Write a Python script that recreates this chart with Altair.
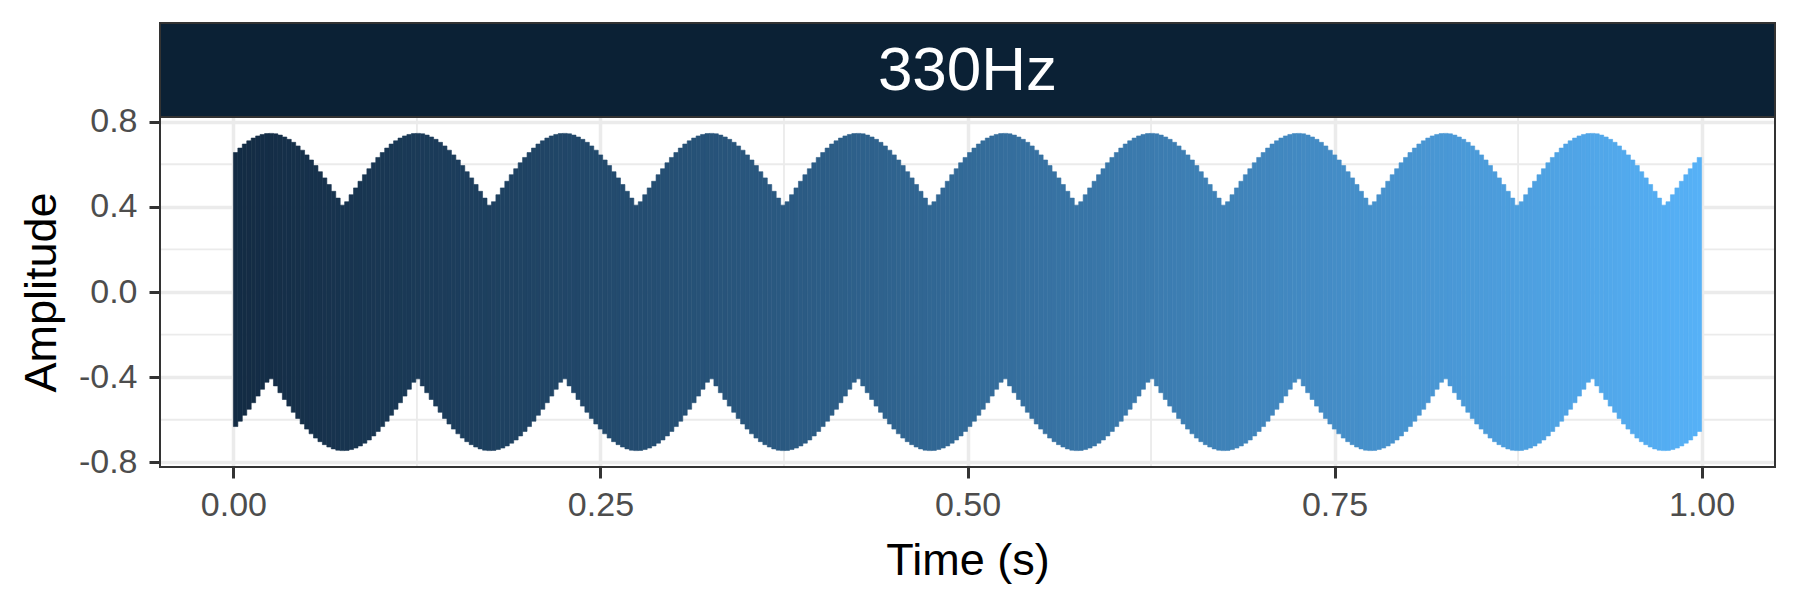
import altair as alt
import pandas as pd

# ---- values ----
FACET_LABEL = "330Hz"
FREQ_HZ = 330          # one staircase step per cycle of the tone
N_BEATS = 10           # the envelope repeats 10 times over 1 s
# peak (upper) and trough (lower) amplitude per cycle over one beat (33 cycles)
UPPER_BEAT = [0.655, 0.676, 0.695, 0.710, 0.723, 0.733, 0.740, 0.744, 0.745, 0.743,
              0.737, 0.728, 0.717, 0.703, 0.686, 0.666, 0.644, 0.620, 0.594, 0.565,
              0.536, 0.505, 0.473, 0.441, 0.408, 0.424, 0.457, 0.489, 0.520, 0.551,
              0.579, 0.607, 0.632]
LOWER_BEAT = [-0.632, -0.607, -0.579, -0.551, -0.520, -0.489, -0.457, -0.424, -0.408, -0.441,
              -0.473, -0.505, -0.536, -0.565, -0.594, -0.620, -0.644, -0.666, -0.686, -0.703,
              -0.717, -0.728, -0.737, -0.743, -0.745, -0.744, -0.740, -0.733, -0.723, -0.710,
              -0.695, -0.676, -0.655]
X_TICKS = [0.0, 0.25, 0.5, 0.75, 1.0]
X_MINOR = [0.125, 0.375, 0.625, 0.875]
Y_TICKS = [-0.8, -0.4, 0.0, 0.4, 0.8]
Y_MINOR = [-0.6, -0.2, 0.2, 0.6]

rows = []
n = len(UPPER_BEAT)
for b in range(N_BEATS):
    for j in range(n):
        k = b * n + j
        t0 = k / FREQ_HZ
        t1 = (k + 1) / FREQ_HZ
        rows.append({"t_start": t0, "t_end": t1, "t_mid": (t0 + t1) / 2,
                     "lower": LOWER_BEAT[j], "upper": UPPER_BEAT[j]})
df = pd.DataFrame(rows)

W, H = 1615, 350
STRIP_H = 94
FONT = "Liberation Sans"

xscale = alt.Scale(domain=[-0.05, 1.05], nice=False, zero=False)
yscale = alt.Scale(domain=[-0.822, 0.822], nice=False, zero=False)
cscale = alt.Scale(domain=[0, 1], range=["#132B43", "#56B1F7"], interpolate="lab")

xaxis = alt.Axis(values=X_TICKS, format=".2f", title="Time (s)",
                 grid=True, gridColor="#EBEBEB", gridWidth=3.5,
                 domain=False, tickSize=11, tickWidth=3, tickColor="#333333",
                 labelFont=FONT, labelFontSize=34, labelColor="#4D4D4D",
                 labelPadding=10, labelFlush=False, labelOverlap=False,
                 titleFont=FONT, titleFontSize=45, titleColor="black",
                 titleFontWeight="normal", titlePadding=16)
yaxis = alt.Axis(values=Y_TICKS, title="Amplitude",
                 labelExpr="datum.value < 0 ? '-' + format(abs(datum.value), '.1f') : format(datum.value, '.1f')",
                 grid=True, gridColor="#EBEBEB", gridWidth=3.5,
                 domain=False, tickSize=11, tickWidth=3, tickColor="#333333",
                 labelFont=FONT, labelFontSize=34, labelColor="#4D4D4D",
                 labelPadding=12, labelFlush=False, labelOverlap=False,
                 titleFont=FONT, titleFontSize=45, titleColor="black",
                 titleFontWeight="normal", titlePadding=14)

minor_x = alt.Chart(pd.DataFrame({"t_start": X_MINOR})).mark_rule(
    color="#EBEBEB", strokeWidth=1.8).encode(
    x=alt.X("t_start:Q", scale=xscale, axis=xaxis))
minor_y = alt.Chart(pd.DataFrame({"lower": Y_MINOR})).mark_rule(
    color="#EBEBEB", strokeWidth=1.8).encode(
    y=alt.Y("lower:Q", scale=yscale, axis=yaxis))

wave = alt.Chart(df).mark_rect(strokeWidth=0.6).encode(
    x=alt.X("t_start:Q", scale=xscale, axis=xaxis),
    x2="t_end:Q",
    y=alt.Y("lower:Q", scale=yscale, axis=yaxis),
    y2="upper:Q",
    fill=alt.Fill("t_mid:Q", scale=cscale, legend=None),
    stroke=alt.Stroke("t_mid:Q", scale=cscale, legend=None),
)

strip_df = pd.DataFrame({"label": [FACET_LABEL]})
strip = alt.Chart(strip_df).mark_rect(
    fill="#0B2135", stroke="#333333", strokeWidth=2).encode(
    x=alt.value(0), x2=alt.value(W), y=alt.value(-STRIP_H), y2=alt.value(0))
strip_text = alt.Chart(strip_df).mark_text(
    color="white", font=FONT, fontSize=62, align="center", baseline="middle").encode(
    text="label:N", x=alt.value(W / 2), y=alt.value(-STRIP_H / 2 + 1))

# panel border drawn on top of everything
border = alt.Chart(strip_df).mark_rect(
    filled=False, stroke="#333333", strokeWidth=2).encode(
    x=alt.value(0), x2=alt.value(W), y=alt.value(0), y2=alt.value(H))

chart = alt.layer(minor_x, minor_y, wave, strip, strip_text, border).properties(
    width=W, height=H, background="white",
    padding={"left": 11, "top": 14, "right": 5, "bottom": 5},
).configure_view(stroke="#333333", strokeWidth=2)

chart.save("out.html", embed_options={"renderer": "svg", "actions": False})
